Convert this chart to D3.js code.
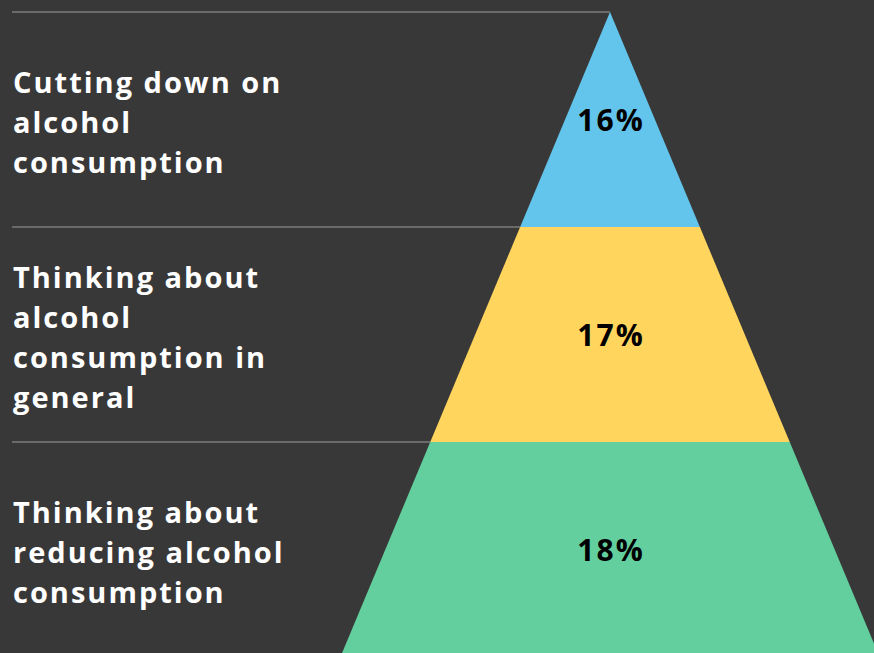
<!DOCTYPE html>
<html>
<head>
<meta charset="utf-8">
<script src="https://cdn.jsdelivr.net/npm/d3@7"></script>
<style>
  html, body { margin: 0; padding: 0; background: #383838; }
  svg { display: block; }
</style>
</head>
<body>
<div id="plot"></div>
<script>
// Chart data
const categories = [
  ["Cutting down on", "alcohol", "consumption"],
  ["Thinking about", "alcohol", "consumption in", "general"],
  ["Thinking about", "reducing alcohol", "consumption"]
];
const values = [16, 17, 18];
const colors = ["#64c5ec", "#ffd55d", "#64cf9e"];

const width = 874, height = 653;
const apexX = 610, topY = 12, baseY = 657;
const slope = 0.418; // half-width per px of height

const svg = d3.select("#plot").append("svg")
  .attr("width", width)
  .attr("height", height);

svg.append("rect")
  .attr("width", width)
  .attr("height", height)
  .attr("fill", "#383838");

// Vertical scale: one band per level
const yScale = d3.scaleLinear()
  .domain([0, values.length])
  .range([topY, baseY]);

// Half width of the pyramid at a given level
const halfWidth = d3.scaleLinear()
  .domain([0, values.length])
  .range([0, (baseY - topY) * slope]);

const levels = values.map((v, i) => ({ value: v, label: categories[i], color: colors[i], i }));

// Separator lines on the left
svg.selectAll(".sep")
  .data(levels)
  .join("line")
  .attr("class", "sep")
  .attr("x1", 12)
  .attr("x2", d => apexX - halfWidth(d.i))
  .attr("y1", d => yScale(d.i))
  .attr("y2", d => yScale(d.i))
  .attr("stroke", "#6a6a6a")
  .attr("stroke-width", 2);

// Pyramid bands
svg.selectAll(".band")
  .data(levels)
  .join("path")
  .attr("class", "band")
  .attr("fill", d => d.color)
  .attr("d", d => {
    const y0 = yScale(d.i), y1 = yScale(d.i + 1);
    const w0 = halfWidth(d.i), w1 = halfWidth(d.i + 1);
    return `M${apexX - w0},${y0}L${apexX + w0},${y0}L${apexX + w1},${y1}L${apexX - w1},${y1}Z`;
  });

// Value labels
svg.selectAll(".value")
  .data(levels)
  .join("text")
  .attr("class", "value")
  .attr("x", apexX + 1)
  .attr("y", d => (yScale(d.i) + yScale(d.i + 1)) / 2 + 11)
  .attr("text-anchor", "middle")
  .attr("font-family", "'Open Sans', sans-serif")
  .attr("font-weight", 700)
  .attr("font-size", 30)
  .attr("letter-spacing", 2)
  .attr("fill", "#000")
  .text(d => d.value + "%");

// Category labels
const lineH = 40;
svg.selectAll(".label")
  .data(levels)
  .join("text")
  .attr("class", "label")
  .attr("font-family", "'Open Sans', sans-serif")
  .attr("font-weight", 700)
  .attr("font-size", 29)
  .attr("letter-spacing", 2)
  .attr("fill", "#fff")
  .each(function (d) {
    const mid = (yScale(d.i) + yScale(d.i + 1)) / 2;
    const first = mid + 13 - (d.label.length - 1) * lineH / 2;
    d3.select(this).selectAll("tspan")
      .data(d.label)
      .join("tspan")
      .attr("x", 13)
      .attr("y", (t, j) => first + j * lineH)
      .text(t => t);
  });
</script>
</body>
</html>
